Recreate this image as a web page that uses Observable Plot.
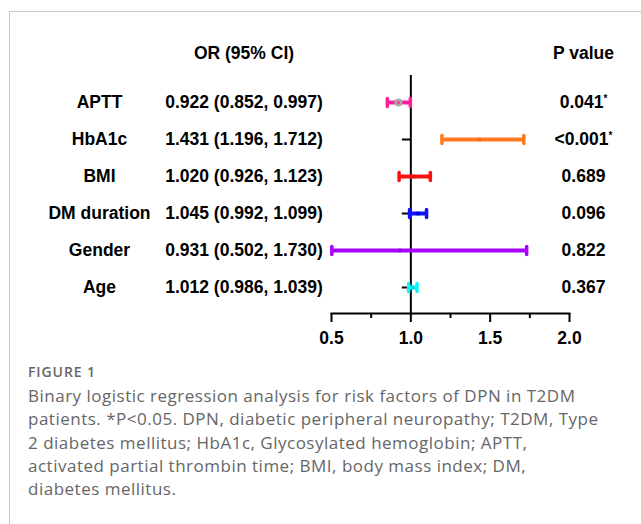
<!DOCTYPE html>
<html><head><meta charset="utf-8">
<script src="https://cdn.jsdelivr.net/npm/d3@7"></script>
<script src="https://cdn.jsdelivr.net/npm/@observablehq/plot@0.6"></script>
<style>
html,body{margin:0;padding:0;background:#fff;}
#page{position:relative;width:641px;height:524px;overflow:hidden;background:#fff;}
#border{position:absolute;left:9px;top:11px;right:-2px;bottom:-2px;border-left:1px solid #c8c8c8;border-top:1px solid #c8c8c8;}
#chart{position:absolute;left:0;top:0;}
#cap{position:absolute;left:28px;top:359px;font-family:"Open Sans",sans-serif;color:#666;}
#cap .fig{font-size:14px;font-weight:600;letter-spacing:0.9px;color:#666;line-height:25px;}
#cap .txt{font-size:17px;line-height:23.3px;letter-spacing:0.5px;white-space:nowrap;}
</style></head>
<body>
<div id="page"><div id="border"></div><div id="chart"></div>
<div id="cap"><div class="fig">FIGURE 1</div>
<div class="txt">Binary logistic regression analysis for risk factors of DPN in T2DM<br>patients. *P&lt;0.05. DPN, diabetic peripheral neuropathy; T2DM, Type<br>2 diabetes mellitus; HbA1c, Glycosylated hemoglobin; APTT,<br>activated partial thrombin time; BMI, body mass index; DM,<br>diabetes mellitus.</div></div>
</div>
<script>
const factors = ["APTT", "HbA1c", "BMI", "DM duration", "Gender", "Age"];
const oddsRatios = [0.922, 1.431, 1.020, 1.045, 0.931, 1.012];
const lowerCI = [0.852, 1.196, 0.926, 0.992, 0.502, 0.986];
const upperCI = [0.997, 1.712, 1.123, 1.099, 1.730, 1.039];
const orLabels = ["0.922 (0.852, 0.997)", "1.431 (1.196, 1.712)", "1.020 (0.926, 1.123)",
                  "1.045 (0.992, 1.099)", "0.931 (0.502, 1.730)", "1.012 (0.986, 1.039)"];
const pValues = ["0.041", "<0.001", "0.689", "0.096", "0.822", "0.367"];
const significant = [true, true, false, false, false, false];
const barColors = ["#ff1f9c", "#ff7a1f", "#ff1010", "#1010ff", "#a800ff", "#10f4f4"];
const markerColors = ["#a8a8a8", "#e8701c", "#e01010", "#0000d8", "#9000e0", "#00dada"];
const headers = ["OR (95% CI)", "P value"];
const xTicks = [0.5, 1.0, 1.5, 2.0];
const xMinorTicks = [0.75, 1.25, 1.75];

const rows = factors.map((f, i) => ({
  factor: f, or: oddsRatios[i], lo: lowerCI[i], hi: upperCI[i],
  orText: orLabels[i], p: pValues[i] + (significant[i] ? "*" : ""),
  color: barColors[i], marker: markerColors[i]
}));

const leftTick = {draw(ctx) { ctx.moveTo(-9, 0); ctx.lineTo(0, 0); }};
const vCap = {draw(ctx) { ctx.moveTo(0, -4); ctx.lineTo(0, 4); }};

const font = "'Liberation Sans', Arial, Helvetica, sans-serif";
const txt = {fontFamily: font, fontWeight: "bold", fontSize: 17.5, fill: "#000"};

const plot = Plot.plot({
  width: 641, height: 350,
  marginLeft: 331, marginRight: 72, marginTop: 75, marginBottom: 37,
  style: {fontFamily: font, fontWeight: "bold", fontSize: "17.5px", color: "#000", background: "transparent"},
  x: {domain: [0.5, 2.0], axis: null},
  y: {type: "point", domain: factors, range: [101, 288], padding: 0, axis: null},
  color: {type: "identity"},
  marks: [
    Plot.frame({anchor: "bottom", stroke: "#000", strokeWidth: 2}),
    Plot.axisX({ticks: xMinorTicks, tickSize: 5, tickFormat: () => "", strokeWidth: 2, stroke: "#000"}),
    Plot.axisX({ticks: xTicks, tickSize: 9, tickPadding: 9, tickFormat: d3.format(".1f"), strokeWidth: 2, stroke: "#000",
                fontSize: 17.5, fontWeight: "bold", fill: "#000"}),
    Plot.ruleX([1], {stroke: "#000", strokeWidth: 2}),
    Plot.dot(rows, {x: 1, y: "factor", symbol: leftTick, stroke: "#000", strokeWidth: 2, fill: "none", r: 5}),
    Plot.ruleY(rows, {y: "factor", x1: "lo", x2: "hi", stroke: "color", strokeWidth: 4}),
    Plot.dot(rows, {x: "lo", y: "factor", symbol: vCap, stroke: "color", strokeWidth: 3.5, strokeLinecap: "round", fill: "none", r: 5}),
    Plot.dot(rows, {x: "hi", y: "factor", symbol: vCap, stroke: "color", strokeWidth: 3.5, strokeLinecap: "round", fill: "none", r: 5}),
    Plot.dot(rows.slice(1), {x: "or", y: "factor", symbol: "square", fill: "marker", r: 2}),
    Plot.dot(rows.slice(0, 1), {x: "or", y: "factor", fill: "marker", r: 4}),
    Plot.dot(rows.slice(0, 1), {x: "or", y: "factor", fill: "color", r: 1.3}),
    Plot.text(rows, {y: "factor", text: "factor", frameAnchor: "left", dx: 99 - 331, textAnchor: "middle", ...txt}),
    Plot.text(rows, {y: "factor", text: "orText", frameAnchor: "left", dx: 243.5 - 331, textAnchor: "middle", ...txt}),
    Plot.text(rows, {y: "factor", text: "p", frameAnchor: "right", dx: 583 - 569, textAnchor: "middle", ...txt}),
    Plot.text([headers[0]], {text: d => d, frameAnchor: "top-left", dx: 243.5 - 331, dy: 53 - 75, textAnchor: "middle", lineAnchor: "middle", ...txt}),
    Plot.text([headers[1]], {text: d => d, frameAnchor: "top-right", dx: 583 - 569, dy: 53 - 75, textAnchor: "middle", lineAnchor: "middle", ...txt})
  ]
});

// superscript asterisks
const ns = "http://www.w3.org/2000/svg";
plot.querySelectorAll("text").forEach(t => {
  if (t.children.length === 0 && t.textContent.endsWith("*")) {
    const s = t.textContent.slice(0, -1);
    t.textContent = s;
    const ts = document.createElementNS(ns, "tspan");
    ts.setAttribute("font-size", "10");
    ts.setAttribute("dy", "-6");
    ts.textContent = "*";
    t.appendChild(ts);
  }
});
document.getElementById("chart").appendChild(plot);
</script>
</body></html>
